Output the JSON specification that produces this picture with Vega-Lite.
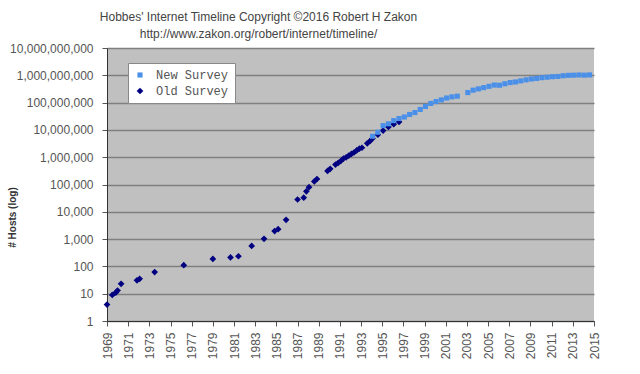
{
  "$schema": "https://vega.github.io/schema/vega-lite/v6.json",
  "autosize": "none",
  "width": 487,
  "height": 273,
  "padding": {"left": 107, "top": 48, "right": 46, "bottom": 53},
  "background": "white",
  "title": {
    "text": ["Hobbes' Internet Timeline Copyright ©2016 Robert H Zakon", "http://www.zakon.org/robert/internet/timeline/"],
    "anchor": "middle",
    "dx": -92,
    "font": "Liberation Sans",
    "fontSize": 12,
    "fontWeight": "normal",
    "color": "#444444",
    "lineHeight": 17,
    "offset": 1
  },
  "data": {
    "values": [
      {"t": 1969.917, "hosts": 4, "series": "Old Survey"},
      {"t": 1970.417, "hosts": 9, "series": "Old Survey"},
      {"t": 1970.75, "hosts": 11, "series": "Old Survey"},
      {"t": 1970.917, "hosts": 13, "series": "Old Survey"},
      {"t": 1971.25, "hosts": 23, "series": "Old Survey"},
      {"t": 1972.75, "hosts": 31, "series": "Old Survey"},
      {"t": 1973.0, "hosts": 35, "series": "Old Survey"},
      {"t": 1974.417, "hosts": 62, "series": "Old Survey"},
      {"t": 1977.167, "hosts": 111, "series": "Old Survey"},
      {"t": 1979.917, "hosts": 188, "series": "Old Survey"},
      {"t": 1981.583, "hosts": 213, "series": "Old Survey"},
      {"t": 1982.333, "hosts": 235, "series": "Old Survey"},
      {"t": 1983.583, "hosts": 562, "series": "Old Survey"},
      {"t": 1984.75, "hosts": 1024, "series": "Old Survey"},
      {"t": 1985.75, "hosts": 1961, "series": "Old Survey"},
      {"t": 1986.083, "hosts": 2308, "series": "Old Survey"},
      {"t": 1986.833, "hosts": 5089, "series": "Old Survey"},
      {"t": 1987.917, "hosts": 28174, "series": "Old Survey"},
      {"t": 1988.5, "hosts": 33000, "series": "Old Survey"},
      {"t": 1988.75, "hosts": 56000, "series": "Old Survey"},
      {"t": 1989.0, "hosts": 80000, "series": "Old Survey"},
      {"t": 1989.5, "hosts": 130000, "series": "Old Survey"},
      {"t": 1989.75, "hosts": 159000, "series": "Old Survey"},
      {"t": 1990.75, "hosts": 313000, "series": "Old Survey"},
      {"t": 1991.0, "hosts": 376000, "series": "Old Survey"},
      {"t": 1991.5, "hosts": 535000, "series": "Old Survey"},
      {"t": 1991.75, "hosts": 617000, "series": "Old Survey"},
      {"t": 1992.0, "hosts": 727000, "series": "Old Survey"},
      {"t": 1992.25, "hosts": 890000, "series": "Old Survey"},
      {"t": 1992.5, "hosts": 992000, "series": "Old Survey"},
      {"t": 1992.75, "hosts": 1136000, "series": "Old Survey"},
      {"t": 1993.0, "hosts": 1313000, "series": "Old Survey"},
      {"t": 1993.25, "hosts": 1486000, "series": "Old Survey"},
      {"t": 1993.5, "hosts": 1776000, "series": "Old Survey"},
      {"t": 1993.75, "hosts": 2056000, "series": "Old Survey"},
      {"t": 1994.0, "hosts": 2217000, "series": "Old Survey"},
      {"t": 1994.5, "hosts": 3212000, "series": "Old Survey"},
      {"t": 1994.75, "hosts": 3864000, "series": "Old Survey"},
      {"t": 1995.0, "hosts": 4852000, "series": "Old Survey"},
      {"t": 1995.5, "hosts": 6642000, "series": "Old Survey"},
      {"t": 1996.0, "hosts": 9472000, "series": "Old Survey"},
      {"t": 1996.5, "hosts": 12881000, "series": "Old Survey"},
      {"t": 1997.0, "hosts": 16146000, "series": "Old Survey"},
      {"t": 1997.5, "hosts": 19540000, "series": "Old Survey"},
      {"t": 1995.0, "hosts": 5846000, "series": "New Survey"},
      {"t": 1995.5, "hosts": 8200000, "series": "New Survey"},
      {"t": 1996.0, "hosts": 14352000, "series": "New Survey"},
      {"t": 1996.5, "hosts": 16729000, "series": "New Survey"},
      {"t": 1997.0, "hosts": 21819000, "series": "New Survey"},
      {"t": 1997.5, "hosts": 26053000, "series": "New Survey"},
      {"t": 1998.0, "hosts": 29670000, "series": "New Survey"},
      {"t": 1998.5, "hosts": 36739000, "series": "New Survey"},
      {"t": 1999.0, "hosts": 43230000, "series": "New Survey"},
      {"t": 1999.5, "hosts": 56218000, "series": "New Survey"},
      {"t": 2000.0, "hosts": 72398092, "series": "New Survey"},
      {"t": 2000.5, "hosts": 93047785, "series": "New Survey"},
      {"t": 2001.0, "hosts": 109574429, "series": "New Survey"},
      {"t": 2001.5, "hosts": 125888197, "series": "New Survey"},
      {"t": 2002.0, "hosts": 147344723, "series": "New Survey"},
      {"t": 2002.5, "hosts": 162128493, "series": "New Survey"},
      {"t": 2003.0, "hosts": 171638297, "series": "New Survey"},
      {"t": 2004.0, "hosts": 233101481, "series": "New Survey"},
      {"t": 2004.5, "hosts": 285139107, "series": "New Survey"},
      {"t": 2005.0, "hosts": 317646084, "series": "New Survey"},
      {"t": 2005.5, "hosts": 353284187, "series": "New Survey"},
      {"t": 2006.0, "hosts": 394991609, "series": "New Survey"},
      {"t": 2006.5, "hosts": 439286364, "series": "New Survey"},
      {"t": 2007.0, "hosts": 433193199, "series": "New Survey"},
      {"t": 2007.5, "hosts": 489774269, "series": "New Survey"},
      {"t": 2008.0, "hosts": 541677360, "series": "New Survey"},
      {"t": 2008.5, "hosts": 570937778, "series": "New Survey"},
      {"t": 2009.0, "hosts": 625226456, "series": "New Survey"},
      {"t": 2009.5, "hosts": 681064561, "series": "New Survey"},
      {"t": 2010.0, "hosts": 732740444, "series": "New Survey"},
      {"t": 2010.5, "hosts": 768913036, "series": "New Survey"},
      {"t": 2011.0, "hosts": 818374269, "series": "New Survey"},
      {"t": 2011.5, "hosts": 849869781, "series": "New Survey"},
      {"t": 2012.0, "hosts": 888239420, "series": "New Survey"},
      {"t": 2012.5, "hosts": 908585739, "series": "New Survey"},
      {"t": 2013.0, "hosts": 963518598, "series": "New Survey"},
      {"t": 2013.5, "hosts": 996230757, "series": "New Survey"},
      {"t": 2014.0, "hosts": 1010251829, "series": "New Survey"},
      {"t": 2014.5, "hosts": 1028544414, "series": "New Survey"},
      {"t": 2015.0, "hosts": 1012706012, "series": "New Survey"},
      {"t": 2015.5, "hosts": 1033836245, "series": "New Survey"}
    ]
  },
  "mark": {"type": "point", "filled": true, "opacity": 1, "strokeWidth": 0},
  "encoding": {
    "x": {
      "field": "t",
      "type": "quantitative",
      "scale": {"domain": [1969.917, 2015.917], "nice": false, "zero": false},
      "axis": {
        "title": null,
        "values": [1969.917, 1971.917, 1973.917, 1975.917, 1977.917, 1979.917, 1981.917, 1983.917, 1985.917, 1987.917, 1989.917, 1991.917, 1993.917, 1995.917, 1997.917, 1999.917, 2001.917, 2003.917, 2005.917, 2007.917, 2009.917, 2011.917, 2013.917, 2015.917],
        "labelExpr": "toString(floor(datum.value))",
        "labelAngle": -90,
        "labelAlign": "right",
        "labelBaseline": "middle",
        "labelPadding": 6,
        "tickSize": 5,
        "grid": false,
        "labelOverlap": false,
        "labelFlush": false
      }
    },
    "y": {
      "field": "hosts",
      "type": "quantitative",
      "scale": {"type": "log", "domain": [1, 10000000000], "nice": false},
      "axis": {
        "title": "# Hosts (log)",
        "values": [1, 10, 100, 1000, 10000, 100000, 1000000, 10000000, 100000000, 1000000000, 10000000000],
        "format": ",",
        "tickSize": 5,
        "labelPadding": 9,
        "grid": true,
        "gridColor": "#7f7f7f",
        "gridWidth": 1.5,
        "titleX": -95,
        "titleY": 169,
        "titleAngle": -90,
        "titleAlign": "center",
        "titleBaseline": "middle",
        "titleFont": "Liberation Sans",
        "titleFontSize": 10,
        "titleFontWeight": "bold",
        "titleColor": "#333333",
        "labelOverlap": false,
        "labelFlush": false
      }
    },
    "color": {
      "field": "series",
      "type": "nominal",
      "scale": {"domain": ["New Survey", "Old Survey"], "range": ["#4a8fe8", "#000080"]},
      "legend": {"title": null}
    },
    "shape": {
      "field": "series",
      "type": "nominal",
      "scale": {"domain": ["New Survey", "Old Survey"], "range": ["square", "diamond"]},
      "legend": {"title": null}
    },
    "size": {
      "field": "series",
      "type": "nominal",
      "scale": {"domain": ["New Survey", "Old Survey"], "range": [26, 45]},
      "legend": null
    }
  },
  "config": {
    "view": {"fill": "#c0c0c0", "stroke": null},
    "axis": {
      "labelFont": "Liberation Sans",
      "labelFontSize": 12,
      "labelColor": "#555555",
      "domainColor": "#333333",
      "domainWidth": 1,
      "tickColor": "#555555"
    },
    "legend": {
      "orient": "none",
      "legendX": 21,
      "legendY": 15,
      "fillColor": "white",
      "strokeColor": "#888888",
      "padding": 6,
      "labelFont": "Liberation Mono",
      "labelFontSize": 12,
      "labelColor": "#555555",
      "labelOffset": 10,
      "rowPadding": 4,
      "symbolSize": 30,
      "symbolStrokeWidth": 0
    }
  }
}
